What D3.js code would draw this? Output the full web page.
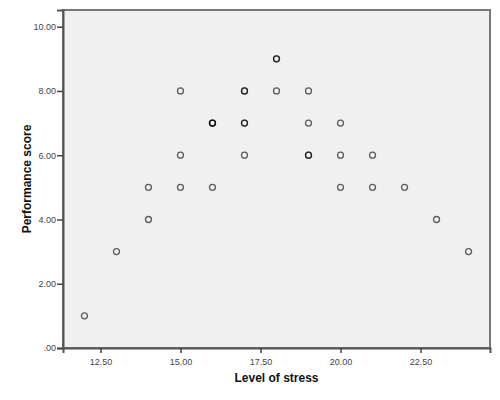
<!DOCTYPE html>
<html>
<head>
<meta charset="utf-8">
<script src="https://cdn.jsdelivr.net/npm/d3@7"></script>
<style>
  body { margin: 0; background: #fff; }
  svg { display: block; }
  .tick text { font-family: Arial, "Liberation Sans", sans-serif; font-size: 9px; fill: #444; }
  .axis-title { font-family: Arial, "Liberation Sans", sans-serif; font-size: 12px; font-weight: bold; fill: #111; }
</style>
</head>
<body>
<div id="chart"></div>
<script>
// Stress level vs. performance (duplicated points overlap and look darker)
const stress = [12, 13, 14, 14, 15, 15, 15, 16, 16, 16, 16, 17, 17, 17, 17, 17, 18, 18, 18, 19, 19, 19, 19, 20, 20, 20, 21, 21, 22, 23, 24];
const performance = [1, 3, 5, 4, 8, 6, 5, 7, 7, 5, 7, 8, 8, 7, 7, 6, 9, 9, 8, 8, 7, 6, 6, 7, 6, 5, 6, 5, 5, 4, 3];
const xTicks = [12.5, 15, 17.5, 20, 22.5];
const yTicks = [0, 2, 4, 6, 8, 10];

const width = 500, height = 400;
const margin = { top: 10, right: 10, bottom: 52, left: 63 };

const svg = d3.select("#chart").append("svg")
    .attr("width", width)
    .attr("height", height);

// --------------------------------------
// Scales
const x = d3.scaleLinear()
    .domain([11.33, 24.67])
    .range([margin.left, width - margin.right]);
const y = d3.scaleLinear()
    .domain([0, 10.52])
    .range([height - margin.bottom, margin.top]);

// Plot background with frame
svg.append("rect")
    .attr("x", margin.left)
    .attr("y", margin.top)
    .attr("width", width - margin.right - margin.left)
    .attr("height", height - margin.bottom - margin.top)
    .style("fill", "#f0f0f0")
    .style("stroke", "#777")
    .style("stroke-width", 2);

// --------------------------------------
// Axes
const fmt = d3.format(".2f");
const xAxis = svg.append("g")
    .attr("transform", "translate(0," + (height - margin.bottom) + ")")
    .call(d3.axisBottom(x).tickValues(xTicks).tickFormat(fmt).tickSizeOuter(0).tickSize(5).tickPadding(6));
const yAxis = svg.append("g")
    .attr("transform", "translate(" + margin.left + ",0)")
    .call(d3.axisLeft(y).tickValues(yTicks).tickSizeOuter(0).tickSize(6).tickPadding(1)
        .tickFormat(d => d === 0 ? ".00" : fmt(d)));
[xAxis, yAxis].forEach(a => {
    a.select(".domain").style("stroke", "#555").style("stroke-width", 2);
    a.selectAll(".tick line").style("stroke", "#444").style("stroke-width", 1.5);
});

// Axis titles
svg.append("text")
    .attr("class", "axis-title")
    .attr("x", (margin.left + width - margin.right) / 2)
    .attr("y", 382)
    .attr("text-anchor", "middle")
    .text("Level of stress");
svg.append("text")
    .attr("class", "axis-title")
    .attr("transform", "translate(31," + ((margin.top + height - margin.bottom) / 2) + ") rotate(-90)")
    .attr("text-anchor", "middle")
    .text("Performance score");

// --------------------------------------
// Points
svg.append("g")
    .selectAll("circle")
    .data(stress.map((s, i) => [s, performance[i]]))
    .join("circle")
    .attr("cx", d => x(d[0]))
    .attr("cy", d => y(d[1]))
    .attr("r", 3)
    .style("fill", "none")
    .style("stroke", "#000")
    .style("stroke-opacity", 0.62)
    .style("stroke-width", 1.3);
</script>
</body>
</html>
